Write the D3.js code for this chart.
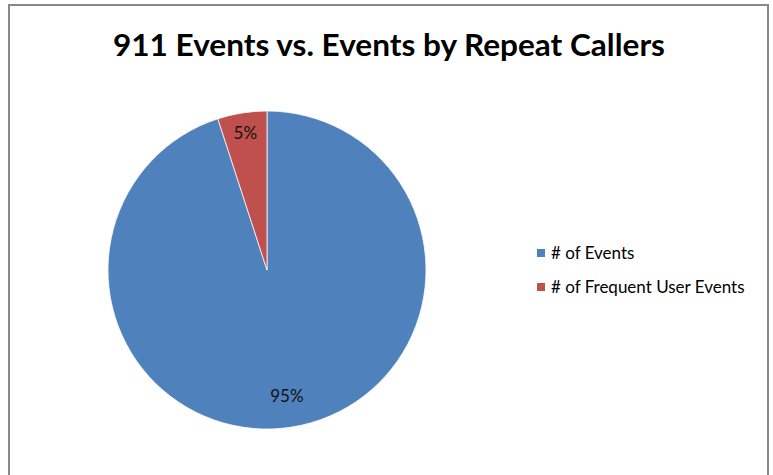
<!DOCTYPE html>
<meta charset="utf-8">
<style>
body {
	margin: 0;
	padding: 0;
	background: #fff;
}
text {
	font-family: Lato, "Open Sans", sans-serif;
}
.title {
	font-weight: bold;
	font-size: 31px;
	fill: #000;
}
.legend-label {
	font-size: 17px;
	fill: #000;
}
.slice-label {
	font-size: 17px;
	fill: #111;
}
</style>
<body>
<div id="chart"></div>
<script src="https://cdn.jsdelivr.net/npm/d3@7"></script>
<script>
	var categories = ["# of Events", "# of Frequent User Events"];
	var values = [95, 5];
	var percentLabels = ["95%", "5%"];
	var colors = ["#4F81BD", "#C0504D"];

	var width = 773,
		height = 475;

	var svg = d3.select("#chart").append("svg")
		.attr("width", width)
		.attr("height", height);

	// chart frame (bottom runs off the page)
	svg.append("rect")
		.attr("x", 9)
		.attr("y", 5)
		.attr("width", 759)
		.attr("height", 480)
		.attr("fill", "#fff")
		.attr("stroke", "#888")
		.attr("stroke-width", 2);

	svg.append("text")
		.attr("class", "title")
		.attr("x", 389)
		.attr("y", 56)
		.attr("text-anchor", "middle")
		.attr("textLength", 552)
		.attr("lengthAdjust", "spacingAndGlyphs")
		.text("911 Events vs. Events by Repeat Callers");

	var radius = 159;
	var g = svg.append("g")
		.attr("transform", "translate(267,270)");

	var pie = d3.pie().sort(null).value(function(d) { return d; });
	var arc = d3.arc().innerRadius(0).outerRadius(radius);
	var arcs = pie(values);

	g.selectAll("path")
		.data(arcs)
		.enter().append("path")
		.attr("d", arc)
		.attr("fill", function(d, i) { return colors[i]; })
		.attr("stroke", "#fff")
		.attr("stroke-width", 0.75);

	// labels sit near the rim, like Excel's "best fit"
	var labelRadius = [0.8, 0.87];
	g.selectAll(".slice-label")
		.data(arcs)
		.enter().append("text")
		.attr("class", "slice-label")
		.attr("text-anchor", "middle")
		.attr("dy", "0.35em")
		.attr("transform", function(d, i) {
			var r = radius * labelRadius[i];
			var c = d3.arc().innerRadius(r).outerRadius(r).centroid(d);
			return "translate(" + c[0] + "," + c[1] + ")";
		})
		.text(function(d, i) { return percentLabels[i]; });

	var legend = svg.append("g")
		.attr("transform", "translate(537,253)");

	var item = legend.selectAll("g")
		.data(categories)
		.enter().append("g")
		.attr("transform", function(d, i) { return "translate(0," + (i * 34) + ")"; });

	item.append("rect")
		.attr("x", 0)
		.attr("y", -4)
		.attr("width", 8)
		.attr("height", 8)
		.attr("fill", function(d, i) { return colors[i]; });

	item.append("text")
		.attr("class", "legend-label")
		.attr("x", 14)
		.attr("y", 0)
		.attr("dy", "0.35em")
		.text(function(d) { return d; });
</script>
</body>
